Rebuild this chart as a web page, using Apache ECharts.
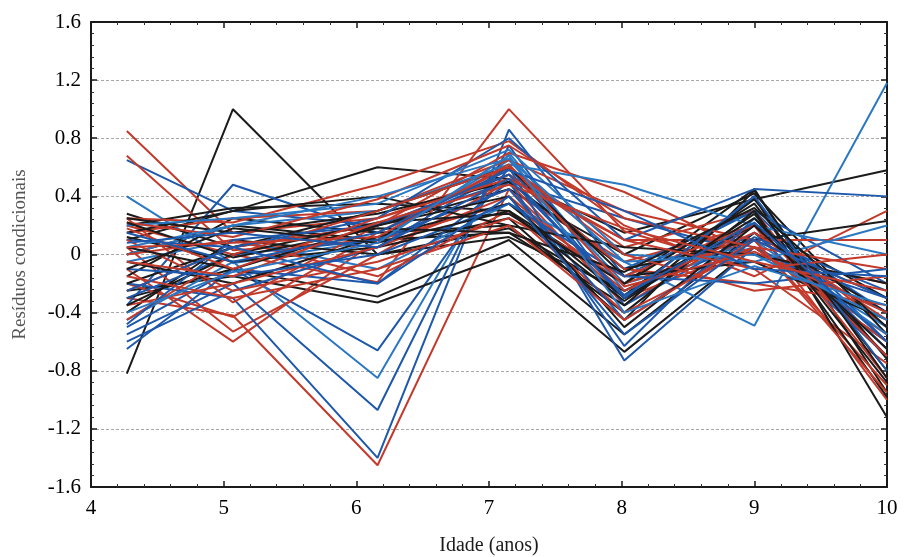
<!DOCTYPE html>
<html>
<head>
<meta charset="utf-8">
<script src="https://cdn.jsdelivr.net/npm/echarts@6/dist/echarts.min.js"></script>
<style>
  html, body { margin: 0; padding: 0; background: #fff; }
  #chart { width: 904px; height: 557px; }
</style>
</head>
<body>
<div id="chart"></div>
<script>
// Ages at which the conditional residuals were computed
const idades = [4.27, 5.07, 6.16, 7.15, 8.02, 9.0, 10.0];

// Residual profiles per individual, grouped by drawing colour
const perfisPretos = [
  [-0.82, 1.00, 0.00, 0.18, -0.28, 0.38, -0.72],
  [0.10, 0.30, 0.60, 0.52, 0.15, 0.38, 0.58],
  [0.28, 0.05, 0.20, 0.45, 0.00, 0.42, -0.55],
  [0.20, 0.32, 0.35, 0.30, -0.20, 0.45, -0.95],
  [-0.25, -0.15, -0.33, 0.00, -0.67, 0.05, -0.60],
  [-0.30, -0.10, -0.29, 0.10, -0.55, 0.15, -0.40],
  [0.00, 0.20, 0.10, 0.15, -0.35, 0.40, -1.12],
  [-0.15, 0.25, 0.15, 0.20, -0.40, 0.30, -0.98],
  [0.12, -0.05, 0.05, 0.25, -0.45, 0.44, -0.85],
  [-0.40, 0.10, 0.00, 0.12, -0.25, 0.20, -0.30],
  [0.25, 0.15, 0.28, 0.50, -0.10, 0.10, 0.23],
  [-0.20, 0.05, 0.30, 0.60, -0.15, -0.05, -0.45],
  [-0.05, -0.20, 0.12, 0.35, -0.30, 0.25, -0.70],
  [0.15, 0.30, 0.40, 0.20, 0.05, 0.00, -0.20],
  [-0.35, 0.00, 0.22, 0.28, -0.20, 0.35, -0.80],
  [0.05, -0.10, 0.20, 0.40, -0.50, 0.20, -0.65],
  [-0.10, 0.18, 0.08, 0.30, -0.32, 0.28, -0.88],
  [0.22, -0.02, 0.18, 0.15, -0.12, 0.32, -0.50]
];

const perfisVermelhos = [
  [0.85, 0.15, 0.25, 0.55, 0.10, 0.10, -0.30],
  [0.68, 0.03, 0.10, 0.45, -0.05, 0.20, -0.50],
  [-0.30, -0.42, -1.45, 0.45, -0.30, 0.05, -0.55],
  [0.20, 0.00, -0.19, 1.00, 0.16, -0.10, -0.75],
  [-0.10, -0.60, 0.10, 0.35, -0.20, 0.10, -0.90],
  [0.05, -0.53, 0.00, 0.50, -0.35, 0.20, -1.00],
  [-0.20, -0.43, 0.15, 0.60, 0.05, 0.30, -0.85],
  [0.25, -0.33, 0.20, 0.70, 0.43, 0.00, -0.20],
  [0.25, 0.22, 0.48, 0.78, 0.20, -0.15, 0.30],
  [0.15, 0.25, 0.30, 0.65, 0.30, 0.10, 0.10],
  [-0.25, 0.05, 0.20, 0.55, -0.10, -0.20, -0.35],
  [0.00, 0.10, -0.15, 0.30, -0.40, 0.05, -0.60],
  [-0.35, -0.20, 0.05, 0.40, -0.25, 0.15, -0.45],
  [0.10, -0.25, -0.05, 0.25, -0.15, 0.20, -0.70],
  [-0.45, 0.00, 0.30, 0.60, 0.00, -0.25, -0.15],
  [0.22, 0.12, 0.38, 0.75, 0.25, 0.05, -0.10],
  [-0.15, -0.30, -0.10, 0.20, -0.45, 0.10, -0.95],
  [0.18, -0.10, 0.25, 0.52, 0.10, -0.10, 0.00],
  [0.05, 0.08, 0.12, 0.62, -0.22, 0.02, -0.40],
  [-0.05, -0.15, 0.22, 0.48, 0.18, -0.05, -0.25]
];

const perfisAzuis = [
  [0.65, 0.30, 0.20, 0.50, 0.25, 0.00, -0.30],
  [0.40, -0.06, 0.10, 0.65, -0.20, 0.05, -0.50],
  [-0.35, 0.48, 0.15, 0.55, -0.10, 0.30, -0.60],
  [-0.50, -0.10, -0.66, 0.60, -0.30, 0.20, -0.40],
  [-0.45, -0.05, -0.85, 0.70, -0.25, 0.10, -0.55],
  [-0.55, -0.20, -1.07, 0.75, -0.35, 0.15, -0.70],
  [-0.20, -0.30, -1.40, 0.86, -0.15, 0.30, -0.20],
  [-0.05, 0.10, -0.10, 0.35, -0.05, -0.49, 1.18],
  [-0.60, -0.25, 0.05, 0.60, -0.73, 0.05, -0.40],
  [-0.65, -0.10, -0.20, 0.50, -0.63, 0.25, -0.65],
  [0.00, 0.20, 0.30, 0.62, 0.48, 0.20, 0.00],
  [0.10, 0.05, 0.25, 0.80, 0.10, 0.45, 0.40],
  [-0.30, 0.00, 0.10, 0.45, -0.45, 0.12, -0.25],
  [0.20, 0.25, 0.35, 0.72, 0.00, -0.05, 0.20],
  [-0.48, 0.10, 0.20, 0.55, -0.30, 0.40, -0.80],
  [-0.10, -0.15, 0.00, 0.35, -0.15, -0.20, -0.10],
  [0.05, 0.20, 0.40, 0.66, -0.05, 0.00, -0.45],
  [-0.25, 0.05, -0.20, 0.40, -0.55, 0.10, -0.30],
  [0.15, -0.05, 0.15, 0.58, 0.30, -0.10, -0.15],
  [-0.40, -0.12, 0.08, 0.68, -0.40, -0.08, -0.35],
  [0.08, 0.15, 0.05, 0.52, -0.28, 0.22, -0.60]
];

const coresGrupo = { preto: '#1b1b1b', vermelho: '#c23a2b', azul: '#1d58ab' };
const azulClaro = '#2a78c2';

const fonteSerif = '"Liberation Serif", "DejaVu Serif", serif';

function serie(valores, cor) {
  return {
    type: 'line',
    data: idades.map((x, i) => [x, valores[i]]),
    symbol: 'none',
    silent: true,
    lineStyle: { color: cor, width: 2 },
    animation: false
  };
}

// Interleave the three groups so no colour sits entirely on top
const series = [];
const n = Math.max(perfisPretos.length, perfisVermelhos.length, perfisAzuis.length);
for (let i = 0; i < n; i++) {
  if (perfisPretos[i]) series.push(serie(perfisPretos[i], coresGrupo.preto));
  if (perfisVermelhos[i]) series.push(serie(perfisVermelhos[i], coresGrupo.vermelho));
  if (perfisAzuis[i]) series.push(serie(perfisAzuis[i], i % 3 === 1 ? azulClaro : coresGrupo.azul));
}

const eixoLinha = { show: true, onZero: false, lineStyle: { color: '#1a1a1a', width: 2 } };
const tickDentro = { show: true, inside: true, length: 6, lineStyle: { color: '#1a1a1a', width: 1.5 } };
const minorDentro = { show: true, splitNumber: 5, length: 3, lineStyle: { color: '#333', width: 1 } };

const chart = echarts.init(document.getElementById('chart'), null, { renderer: 'canvas' });
chart.setOption({
  backgroundColor: '#ffffff',
  animation: false,
  grid: { left: 91, top: 22, right: 17, bottom: 70, containLabel: false, outerBoundsMode: 'none' },
  xAxis: [
    {
      type: 'value', min: 4, max: 10, interval: 1, position: 'bottom',
      name: 'Idade (anos)', nameLocation: 'middle', nameGap: 49,
      nameTextStyle: { fontFamily: fonteSerif, fontSize: 20, color: '#1a1a1a' },
      axisLine: eixoLinha, axisTick: tickDentro, minorTick: minorDentro,
      axisLabel: { fontFamily: fonteSerif, fontSize: 21, color: '#000', margin: 11 },
      splitLine: { show: false }
    },
    {
      type: 'value', min: 4, max: 10, interval: 1, position: 'top',
      axisLine: eixoLinha, axisTick: tickDentro, minorTick: minorDentro,
      axisLabel: { show: false }, splitLine: { show: false }
    }
  ],
  yAxis: [
    {
      type: 'value', min: -1.6, max: 1.6, interval: 0.4, position: 'left',
      name: 'Resíduos condicionais', nameLocation: 'middle', nameGap: 61,
      nameTextStyle: { fontFamily: fonteSerif, fontSize: 19, color: '#555' },
      axisLine: eixoLinha, axisTick: tickDentro, minorTick: minorDentro,
      axisLabel: {
        fontFamily: fonteSerif, fontSize: 21, color: '#000', margin: 10,
        formatter: v => (Math.abs(v) < 1e-9 ? '0' : v.toFixed(1))
      },
      splitLine: { show: true, lineStyle: { color: '#a8a8a8', width: 1, type: [3, 2] } }
    },
    {
      type: 'value', min: -1.6, max: 1.6, interval: 0.4, position: 'right',
      axisLine: eixoLinha, axisTick: tickDentro, minorTick: minorDentro,
      axisLabel: { show: false }, splitLine: { show: false }
    }
  ],
  series: series
});
</script>
</body>
</html>
